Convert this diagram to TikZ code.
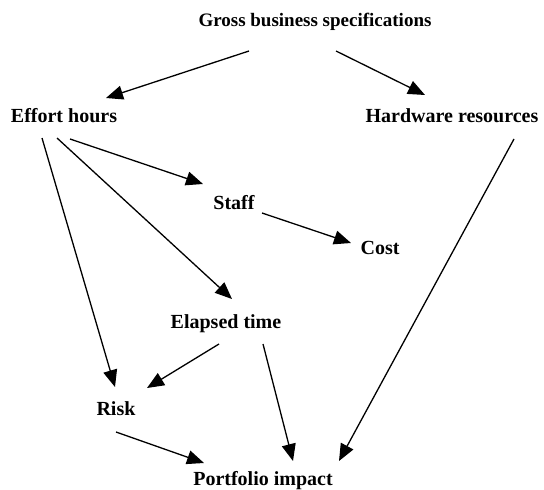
\documentclass[tikz,border=0pt]{standalone}
\usepackage{fontspec}
\setmainfont{Liberation Serif}
\usetikzlibrary{arrows.meta}
\begin{document}
\begin{tikzpicture}[>={Triangle[length=17bp,width=14bp]},line join=bevel,line width=1.3bp,
  lbl/.style={inner sep=0pt,anchor=base,font=\fontsize{20bp}{22bp}\selectfont\bfseries}]
\useasboundingbox (0bp,0bp) rectangle (544bp,-490bp);
%%
\node (node_gross) at (315bp,-26bp) [lbl,font=\fontsize{19bp}{22bp}\selectfont\bfseries] {Gross business specifications};
  \node (node_effort) at (64bp,-122bp) [lbl] {Effort hours};
  \node (node_hardware) at (452bp,-122bp) [lbl] {Hardware resources};
  \node (node_staff) at (234bp,-209bp) [lbl] {Staff};
  \node (node_cost) at (380bp,-254bp) [lbl] {Cost};
  \node (node_elapsed) at (226bp,-328bp) [lbl] {Elapsed time};
  \node (node_risk) at (116bp,-415bp) [lbl] {Risk};
  \node (node_portfolio) at (263bp,-485bp) [lbl] {Portfolio impact};
  \draw [black,->] ([xshift=-66bp,yshift=-25bp]node_gross.base) -- ([xshift=42bp,yshift=24bp]node_effort.base);
  \draw [black,->] ([xshift=21bp,yshift=-25bp]node_gross.base) -- ([xshift=-27bp,yshift=27bp]node_hardware.base);
  \draw [black,->] ([xshift=6bp,yshift=-17bp]node_effort.base) -- ([xshift=-31bp,yshift=25bp]node_staff.base);
  \draw [black,->] ([xshift=-7bp,yshift=-16bp]node_effort.base) -- ([xshift=6bp,yshift=29bp]node_elapsed.base);
  \draw [black,->] ([xshift=-22bp,yshift=-16bp]node_effort.base) -- ([xshift=-1bp,yshift=28bp]node_risk.base);
  \draw [black,->] ([xshift=62bp,yshift=-17bp]node_hardware.base) -- ([xshift=76bp,yshift=24bp]node_portfolio.base);
  \draw [black,->] ([xshift=28bp,yshift=-4bp]node_staff.base) -- ([xshift=-29bp,yshift=11bp]node_cost.base);
  \draw [black,->] ([xshift=-7bp,yshift=-16bp]node_elapsed.base) -- ([xshift=31bp,yshift=27bp]node_risk.base);
  \draw [black,->] ([xshift=37bp,yshift=-16bp]node_elapsed.base) -- ([xshift=30bp,yshift=24bp]node_portfolio.base);
  \draw [black,->] ([xshift=0bp,yshift=-17bp]node_risk.base) -- ([xshift=-59bp,yshift=22bp]node_portfolio.base);
%
\end{tikzpicture}
\end{document}
